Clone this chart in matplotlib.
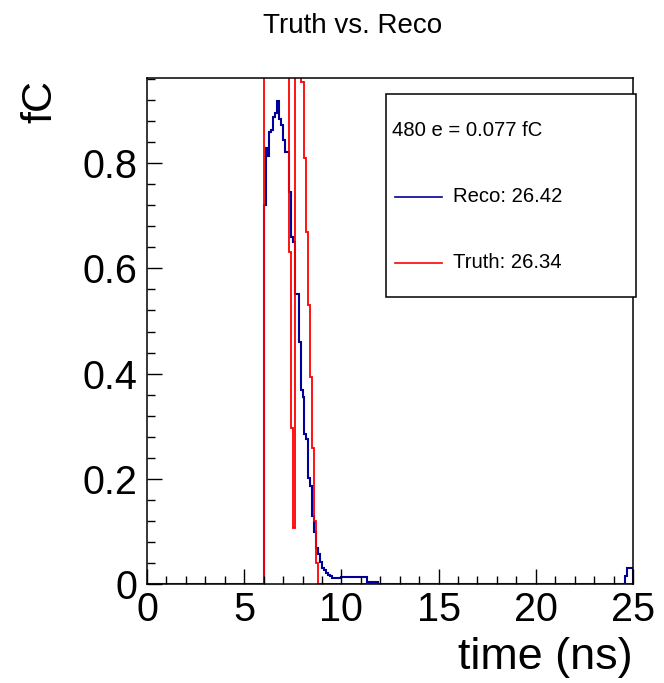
import numpy as np
import matplotlib.pyplot as plt
from matplotlib.patches import Rectangle
from matplotlib.lines import Line2D
from matplotlib.ticker import MultipleLocator

plt.rcParams['font.family'] = ['Liberation Sans', 'DejaVu Sans']

# histogram binning: 250 bins of 0.1 ns over 0-25 ns
t_min, t_max, n_bins = 0.0, 25.0, 250

# reco (blue) bin contents, bins starting at reco_start
reco_start = 6.0
reco_vals = [0.72, 0.828, 0.813, 0.86, 0.863, 0.888, 0.895, 0.918, 0.885, 0.872,
             0.845, 0.822, 0.822, 0.745, 0.66, 0.65, 0.552, 0.552, 0.46, 0.368,
             0.355, 0.285, 0.276, 0.202, 0.187, 0.13, 0.098, 0.069, 0.057, 0.041,
             0.031, 0.026, 0.021, 0.018, 0.015, 0.011, 0.011, 0.011, 0.011, 0.011,
             0.013, 0.013, 0.013, 0.013, 0.013, 0.013, 0.013, 0.013, 0.013, 0.013,
             0.013, 0.013, 0.013, 0.003, 0.003, 0.003, 0.003, 0.003, 0.003]
reco_end_start = 24.6
reco_end_vals = [0.015, 0.031, 0.031, 0.031]

# truth (red) bin contents, several bins are far above the frame
truth_start = 6.0
truth_vals = [2.1, 2.3, 2.4, 2.2, 2.0, 1.9, 1.8, 1.6, 1.5, 1.4, 1.3, 1.2, 1.1,
              0.632, 0.297, 0.107,
              1.2, 1.4, 1.1,
              0.955, 0.955, 0.81, 0.67, 0.53, 0.394, 0.259, 0.12, 0.04]

legend_note = "480 e = 0.077 fC"
reco_label = "Reco: 26.42"
truth_label = "Truth: 26.34"

edges = np.linspace(t_min, t_max, n_bins + 1)
bw = (t_max - t_min) / n_bins


def fill(start, vals, out):
    i0 = int(round((start - t_min) / bw))
    out[i0:i0 + len(vals)] = vals


reco = np.zeros(n_bins)
fill(reco_start, reco_vals, reco)
fill(reco_end_start, reco_end_vals, reco)
truth = np.zeros(n_bins)
fill(truth_start, truth_vals, truth)

W, H = 664, 683
fig = plt.figure(figsize=(W / 100, H / 100), dpi=100)
ax = fig.add_axes([147 / W, 1 - 584 / H, (633 - 147) / W, (584 - 78) / H])

ax.stairs(reco, edges, color='#000099', lw=1.5)
ax.stairs(truth, edges, color='#ff0000', lw=1.3)

ax.set_xlim(0, 25)
ax.set_ylim(0, 0.962)
ax.xaxis.set_major_locator(MultipleLocator(5))
ax.xaxis.set_minor_locator(MultipleLocator(1))
ax.yaxis.set_major_locator(MultipleLocator(0.2))
ax.yaxis.set_minor_locator(MultipleLocator(0.04))
ax.set_yticks([0, 0.2, 0.4, 0.6, 0.8])
ax.set_yticklabels(['0', '0.2', '0.4', '0.6', '0.8'])
ax.tick_params(which='both', direction='in', top=False, right=False,
               labelsize=28.5, width=1.0)
ax.tick_params(which='major', length=11)
ax.tick_params(which='minor', length=5.5)
ax.tick_params(axis='x', pad=5)
ax.tick_params(axis='y', pad=7)
for s in ax.spines.values():
    s.set_linewidth(1.1)

fig.text(633 / W, 1 - 657 / H, "time (ns)", ha='right', va='center', fontsize=32.3)
fig.text(40 / W, 1 - 80 / H, "fC", ha='center', va='top', rotation=90, fontsize=31)
fig.text(353 / W, 1 - 26 / H, "Truth vs. Reco", ha='center', va='center', fontsize=20)

# legend box drawn like the ROOT TLegend
fig.add_artist(Rectangle((386 / W, 1 - 297 / H), (636 - 386) / W, (297 - 94) / H,
                         transform=fig.transFigure, facecolor='white',
                         edgecolor='black', lw=1.1, zorder=3))
fig.text(392 / W, 1 - 131 / H, legend_note, ha='left', va='center', fontsize=14.6, zorder=4)
for y, c, lab in [(197, '#000099', reco_label), (263, '#ff0000', truth_label)]:
    fig.add_artist(Line2D([395 / W, 442 / W], [1 - y / H, 1 - y / H],
                          transform=fig.transFigure, color=c, lw=1.2, zorder=4))
    fig.text(453 / W, 1 - y / H, lab, ha='left', va='center', fontsize=14.6, zorder=4)

fig.savefig('out.png', dpi=100)
